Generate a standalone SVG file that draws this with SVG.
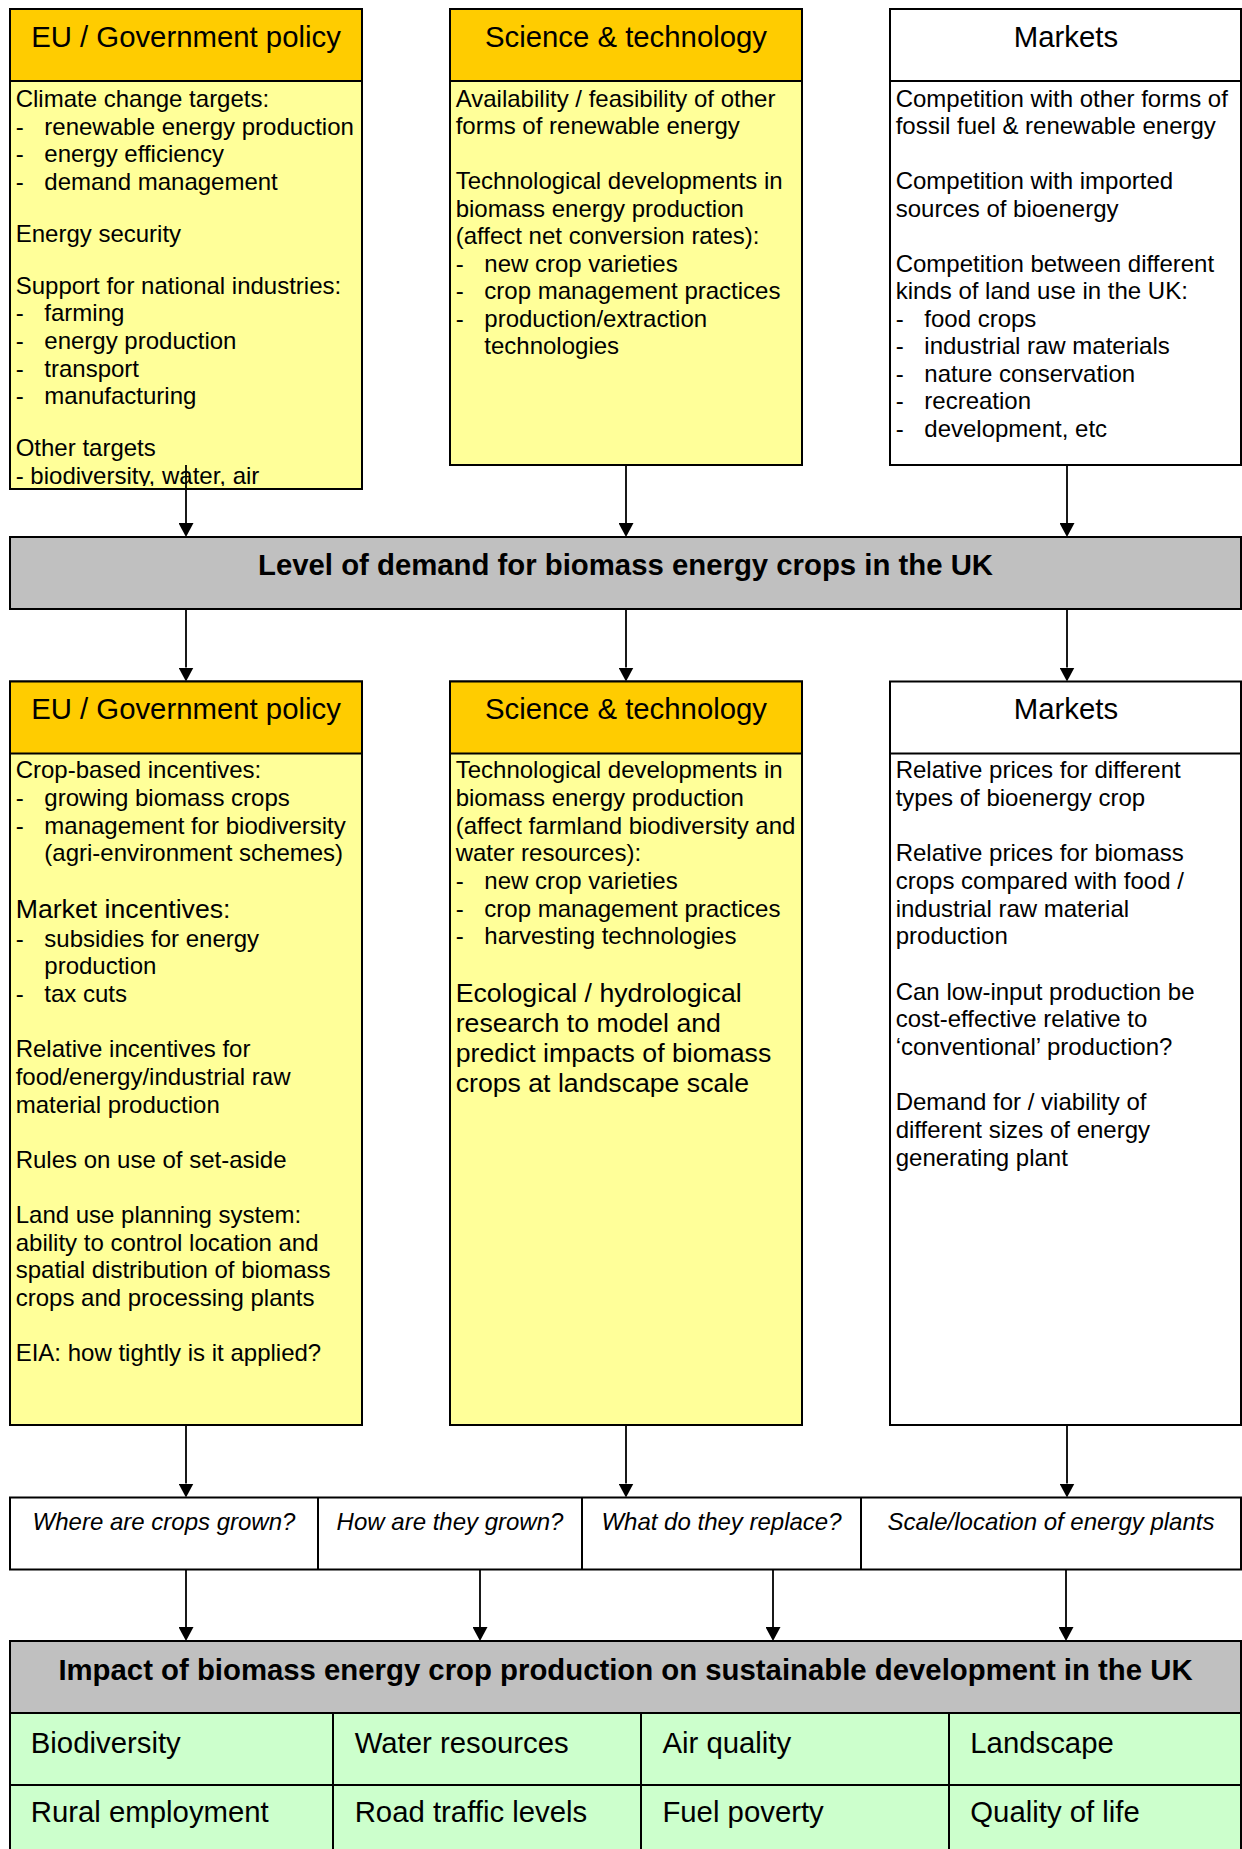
<svg xmlns="http://www.w3.org/2000/svg" width="1242" height="1849" viewBox="0 0 1242 1849">
<style>
text{font-family:"Liberation Sans",Arial,sans-serif;fill:#000}
.b{font-size:24px}
.m{font-size:26.67px}
.h{font-size:29.33px;text-anchor:middle}
.t{font-size:29.33px;font-weight:bold;text-anchor:middle}
.q{font-size:24px;font-style:italic;text-anchor:middle}
.g{font-size:29.33px}
.box{stroke:#000;stroke-width:2}
.hd{fill:#FFCC00}
.yl{fill:#FFFF99}
.wh{fill:#FFFFFF}
.gr{fill:#C0C0C0}
.gn{fill:#CCFFCC}
.ln{stroke:#000;stroke-width:2;fill:none}
.arr{stroke:#000;stroke-width:1.8;fill:none;marker-end:url(#ah)}
</style>
<defs>
<marker id="ah" viewBox="0 0 14 15" refX="0" refY="7.5" markerWidth="14" markerHeight="15" markerUnits="userSpaceOnUse" orient="auto">
<path d="M0,0 L14,7.5 L0,15 z" fill="#000"/>
</marker>
<clipPath id="clipA"><rect x="10" y="82" width="352" height="404"/></clipPath>
</defs>

<g id="policy-top">
<rect class="box yl" x="10" y="9" width="352" height="480"/>
<rect class="box hd" x="10" y="9" width="352" height="72"/>
<text class="h" x="186" y="47">EU / Government policy</text>
<g clip-path="url(#clipA)">
<text class="b" x="15.7" y="107">Climate change targets:</text>
<text class="b" x="15.7" y="134.6">-</text><text class="b" x="44.3" y="134.6">renewable energy production</text>
<text class="b" x="15.7" y="162.2">-</text><text class="b" x="44.3" y="162.2">energy efficiency</text>
<text class="b" x="15.7" y="189.8">-</text><text class="b" x="44.3" y="189.8">demand management</text>
<text class="b" x="15.7" y="241.8">Energy security</text>
<text class="b" x="15.7" y="293.8">Support for national industries:</text>
<text class="b" x="15.7" y="321.4">-</text><text class="b" x="44.3" y="321.4">farming</text>
<text class="b" x="15.7" y="349">-</text><text class="b" x="44.3" y="349">energy production</text>
<text class="b" x="15.7" y="376.6">-</text><text class="b" x="44.3" y="376.6">transport</text>
<text class="b" x="15.7" y="404.2">-</text><text class="b" x="44.3" y="404.2">manufacturing</text>
<text class="b" x="15.7" y="456.2">Other targets</text>
<text class="b" x="15.7" y="483.8">- biodiversity, water, air</text>
</g>
</g>

<g id="science-top">
<rect class="box yl" x="450" y="9" width="352" height="456"/>
<rect class="box hd" x="450" y="9" width="352" height="72"/>
<text class="h" x="626" y="47">Science &amp; technology</text>
<text class="b" x="455.7" y="106.7">Availability / feasibility of other</text>
<text class="b" x="455.7" y="134.2">forms of renewable energy</text>
<text class="b" x="455.7" y="189.2">Technological developments in</text>
<text class="b" x="455.7" y="216.7">biomass energy production</text>
<text class="b" x="455.7" y="244.2">(affect net conversion rates):</text>
<text class="b" x="455.7" y="271.7">-</text><text class="b" x="484.3" y="271.7">new crop varieties</text>
<text class="b" x="455.7" y="299.2">-</text><text class="b" x="484.3" y="299.2">crop management practices</text>
<text class="b" x="455.7" y="326.7">-</text><text class="b" x="484.3" y="326.7">production/extraction</text>
<text class="b" x="484.3" y="354.2">technologies</text>
</g>

<g id="markets-top">
<rect class="box wh" x="890" y="9" width="351" height="456"/>
<line class="ln" x1="890" y1="81" x2="1241" y2="81"/>
<text class="h" x="1066" y="47">Markets</text>
<text class="b" x="895.7" y="106.7">Competition with other forms of</text>
<text class="b" x="895.7" y="134.2">fossil fuel &amp; renewable energy</text>
<text class="b" x="895.7" y="189.2">Competition with imported</text>
<text class="b" x="895.7" y="216.7">sources of bioenergy</text>
<text class="b" x="895.7" y="271.7">Competition between different</text>
<text class="b" x="895.7" y="299.2">kinds of land use in the UK:</text>
<text class="b" x="895.7" y="326.7">-</text><text class="b" x="924.3" y="326.7">food crops</text>
<text class="b" x="895.7" y="354.2">-</text><text class="b" x="924.3" y="354.2">industrial raw materials</text>
<text class="b" x="895.7" y="381.7">-</text><text class="b" x="924.3" y="381.7">nature conservation</text>
<text class="b" x="895.7" y="409.2">-</text><text class="b" x="924.3" y="409.2">recreation</text>
<text class="b" x="895.7" y="436.7">-</text><text class="b" x="924.3" y="436.7">development, etc</text>
</g>

<g id="demand">
<rect class="box gr" x="10" y="537" width="1231" height="72"/>
<text class="t" x="625.5" y="575">Level of demand for biomass energy crops in the UK</text>
</g>

<g id="policy-bottom">
<rect class="box yl" x="10" y="681.5" width="352" height="743.5"/>
<rect class="box hd" x="10" y="681.5" width="352" height="72"/>
<text class="h" x="186" y="719">EU / Government policy</text>
<text class="b" x="15.7" y="778.3">Crop-based incentives:</text>
<text class="b" x="15.7" y="806">-</text><text class="b" x="44.3" y="806">growing biomass crops</text>
<text class="b" x="15.7" y="833.5">-</text><text class="b" x="44.3" y="833.5">management for biodiversity</text>
<text class="b" x="44.3" y="861">(agri-environment schemes)</text>
<text class="m" x="15.7" y="918.3">Market incentives:</text>
<text class="b" x="15.7" y="946.7">-</text><text class="b" x="44.3" y="946.7">subsidies for energy</text>
<text class="b" x="44.3" y="974.3">production</text>
<text class="b" x="15.7" y="1002">-</text><text class="b" x="44.3" y="1002">tax cuts</text>
<text class="b" x="15.7" y="1057.4">Relative incentives for</text>
<text class="b" x="15.7" y="1085">food/energy/industrial raw</text>
<text class="b" x="15.7" y="1112.6">material production</text>
<text class="b" x="15.7" y="1167.8">Rules on use of set-aside</text>
<text class="b" x="15.7" y="1223">Land use planning system:</text>
<text class="b" x="15.7" y="1250.6">ability to control location and</text>
<text class="b" x="15.7" y="1278.2">spatial distribution of biomass</text>
<text class="b" x="15.7" y="1305.8">crops and processing plants</text>
<text class="b" x="15.7" y="1361">EIA: how tightly is it applied?</text>
</g>

<g id="science-bottom">
<rect class="box yl" x="450" y="681.5" width="352" height="743.5"/>
<rect class="box hd" x="450" y="681.5" width="352" height="72"/>
<text class="h" x="626" y="719">Science &amp; technology</text>
<text class="b" x="455.7" y="778.3">Technological developments in</text>
<text class="b" x="455.7" y="806">biomass energy production</text>
<text class="b" x="455.7" y="833.5">(affect farmland biodiversity and</text>
<text class="b" x="455.7" y="861">water resources):</text>
<text class="b" x="455.7" y="889">-</text><text class="b" x="484.3" y="889">new crop varieties</text>
<text class="b" x="455.7" y="916.6">-</text><text class="b" x="484.3" y="916.6">crop management practices</text>
<text class="b" x="455.7" y="944.2">-</text><text class="b" x="484.3" y="944.2">harvesting technologies</text>
<text class="m" x="455.7" y="1001.7">Ecological / hydrological</text>
<text class="m" x="455.7" y="1032">research to model and</text>
<text class="m" x="455.7" y="1062">predict impacts of biomass</text>
<text class="m" x="455.7" y="1092">crops at landscape scale</text>
</g>

<g id="markets-bottom">
<rect class="box wh" x="890" y="681.5" width="351" height="743.5"/>
<line class="ln" x1="890" y1="753.5" x2="1241" y2="753.5"/>
<text class="h" x="1066" y="719">Markets</text>
<text class="b" x="895.7" y="778.3">Relative prices for different</text>
<text class="b" x="895.7" y="806">types of bioenergy crop</text>
<text class="b" x="895.7" y="861.3">Relative prices for biomass</text>
<text class="b" x="895.7" y="889">crops compared with food /</text>
<text class="b" x="895.7" y="916.6">industrial raw material</text>
<text class="b" x="895.7" y="944.3">production</text>
<text class="b" x="895.7" y="999.7">Can low-input production be</text>
<text class="b" x="895.7" y="1027.3">cost-effective relative to</text>
<text class="b" x="895.7" y="1055">‘conventional’ production?</text>
<text class="b" x="895.7" y="1110.3">Demand for / viability of</text>
<text class="b" x="895.7" y="1138">different sizes of energy</text>
<text class="b" x="895.7" y="1165.7">generating plant</text>
</g>

<g id="questions">
<rect class="box wh" x="10" y="1497.5" width="1231" height="72"/>
<line class="ln" x1="318" y1="1497.5" x2="318" y2="1569.5"/>
<line class="ln" x1="582" y1="1497.5" x2="582" y2="1569.5"/>
<line class="ln" x1="861" y1="1497.5" x2="861" y2="1569.5"/>
<text class="q" x="164" y="1530">Where are crops grown?</text>
<text class="q" x="450" y="1530">How are they grown?</text>
<text class="q" x="721.5" y="1530">What do they replace?</text>
<text class="q" x="1051" y="1530">Scale/location of energy plants</text>
</g>

<g id="impact">
<rect class="box gn" x="10" y="1713" width="1231" height="150"/>
<rect class="box gr" x="10" y="1641" width="1231" height="72"/>
<line class="ln" x1="10" y1="1785" x2="1241" y2="1785"/>
<line class="ln" x1="333" y1="1713" x2="333" y2="1863"/>
<line class="ln" x1="641" y1="1713" x2="641" y2="1863"/>
<line class="ln" x1="949" y1="1713" x2="949" y2="1863"/>
<text class="t" x="625.5" y="1680">Impact of biomass energy crop production on sustainable development in the UK</text>
<text class="g" x="30.8" y="1752.5">Biodiversity</text>
<text class="g" x="354.7" y="1752.5">Water resources</text>
<text class="g" x="662.4" y="1752.5">Air quality</text>
<text class="g" x="970.3" y="1752.5">Landscape</text>
<text class="g" x="30.8" y="1822">Rural employment</text>
<text class="g" x="354.7" y="1822">Road traffic levels</text>
<text class="g" x="662.4" y="1822">Fuel poverty</text>
<text class="g" x="970.3" y="1822">Quality of life</text>
</g>

<g id="connectors">
<line class="arr" x1="186" y1="465" x2="186" y2="523"/>
<line class="arr" x1="626" y1="465" x2="626" y2="523"/>
<line class="arr" x1="1067" y1="465" x2="1067" y2="523"/>
<line class="arr" x1="186" y1="609" x2="186" y2="667.5"/>
<line class="arr" x1="626" y1="609" x2="626" y2="667.5"/>
<line class="arr" x1="1067" y1="609" x2="1067" y2="667.5"/>
<line class="arr" x1="186" y1="1425" x2="186" y2="1483.5"/>
<line class="arr" x1="626" y1="1425" x2="626" y2="1483.5"/>
<line class="arr" x1="1067" y1="1425" x2="1067" y2="1483.5"/>
<line class="arr" x1="186" y1="1569.5" x2="186" y2="1627"/>
<line class="arr" x1="480" y1="1569.5" x2="480" y2="1627"/>
<line class="arr" x1="773" y1="1569.5" x2="773" y2="1627"/>
<line class="arr" x1="1066" y1="1569.5" x2="1066" y2="1627"/>
</g>
</svg>
